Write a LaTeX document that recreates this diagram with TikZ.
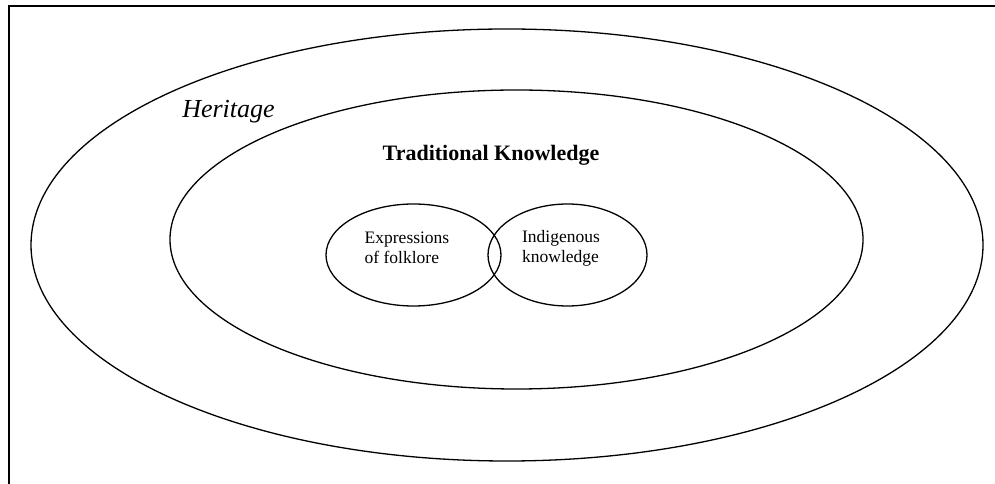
\documentclass[tikz,border=0pt]{standalone}
\usepackage{fontspec}
\setmainfont{Liberation Serif}
\usetikzlibrary{shapes.geometric}

\begin{document}
\begin{tikzpicture}[x=1pt,y=1pt,line width=1.3pt,
    ring/.style = {draw, ellipse, inner sep=0pt},
    small/.style = {align=left, font=\fontsize{17.5}{20}\selectfont}]
    \useasboundingbox (0,0) rectangle (995,484);
    \draw[line width=2.7pt] (9,0) |- (995,478);
    \node[ring,minimum width=952,minimum height=432] (heritage) at (507,239) {};
    \node[ring,minimum width=693,minimum height=299] (tk) at (516.5,244.5) {};
    \node[ring,minimum width=175,minimum height=102] (folk) at (413.5,229) {};
    \node[ring,minimum width=159,minimum height=102] (indig) at (567.5,229) {};
    \node[font=\fontsize{26}{30}\selectfont\itshape] (heritagelbl) at (228.5,372) {Heritage};
    \node[font=\fontsize{22}{26}\selectfont\bfseries] (tklbl) at (491,329) {Traditional Knowledge};
    \node[small] (folklbl) at (407,236) {Expressions\\of folklore};
    \node[small] (indiglbl) at (561,236) {Indigenous\\knowledge};
\end{tikzpicture}
\end{document}
